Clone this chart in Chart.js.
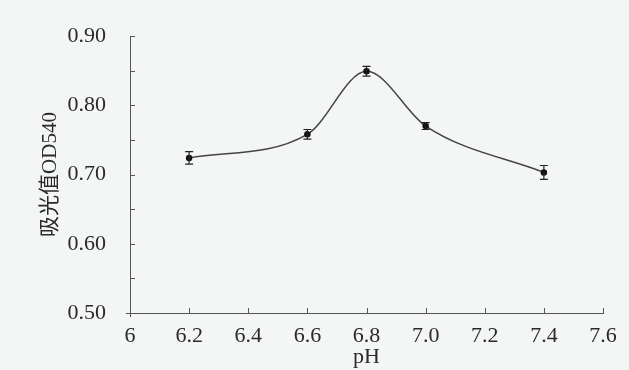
<!DOCTYPE html>
<html>
<head>
<meta charset="utf-8">
<script src="https://cdn.jsdelivr.net/npm/chart.js@4/dist/chart.umd.min.js"></script>
<style>
  html, body { margin: 0; padding: 0; background: #f4f6f5; }
  #wrap { width: 629px; height: 370px; position: relative; }
</style>
</head>
<body>
<div id="wrap"><canvas id="chart"></canvas></div>
<script>
const phValues = [6.2, 6.6, 6.8, 7.0, 7.4];
const odValues = [0.724, 0.758, 0.849, 0.770, 0.703];
const odErrors = [0.009, 0.007, 0.007, 0.005, 0.010];
const xTicks = [6, 6.2, 6.4, 6.6, 6.8, 7.0, 7.2, 7.4, 7.6];
const yTicks = [0.50, 0.55, 0.60, 0.65, 0.70, 0.75, 0.80, 0.85, 0.90];

const axisColor = '#555';
const serif = "'Liberation Serif', 'DejaVu Serif', serif";

// error bars + inward tick marks
const extras = {
    id: 'extras',
    afterDatasetsDraw(chart) {
        const ctx = chart.ctx;
        const xs = chart.scales.x, ys = chart.scales.y;
        ctx.save();
        ctx.strokeStyle = '#222';
        ctx.lineWidth = 1.2;
        phValues.forEach((x, i) => {
            const px = xs.getPixelForValue(x);
            const top = ys.getPixelForValue(odValues[i] + odErrors[i]);
            const bot = ys.getPixelForValue(odValues[i] - odErrors[i]);
            ctx.beginPath();
            ctx.moveTo(px, top); ctx.lineTo(px, bot);
            ctx.moveTo(px - 4, top); ctx.lineTo(px + 4, top);
            ctx.moveTo(px - 4, bot); ctx.lineTo(px + 4, bot);
            ctx.stroke();
        });
        ctx.strokeStyle = axisColor;
        ctx.lineWidth = 1;
        const x0 = xs.left, y0 = ys.bottom;
        yTicks.forEach(v => {
            const py = Math.round(ys.getPixelForValue(v)) + 0.5;
            ctx.beginPath();
            ctx.moveTo(x0 - (v === 0.5 ? 4 : 0), py); ctx.lineTo(x0 + 5, py);
            ctx.stroke();
        });
        xTicks.forEach(v => {
            const px = Math.round(xs.getPixelForValue(v)) + 0.5;
            ctx.beginPath();
            ctx.moveTo(px, y0 + (v === 6 ? 4 : 0)); ctx.lineTo(px, y0 - 5);
            ctx.stroke();
        });
        ctx.restore();
    }
};

new Chart(document.getElementById('chart').getContext('2d'), {
    type: 'line',
    data: {
        datasets: [{
            data: phValues.map((x, i) => ({ x: x, y: odValues[i] })),
            borderColor: '#444',
            borderWidth: 1.5,
            cubicInterpolationMode: 'monotone',
            pointRadius: 2.5,
            pointBackgroundColor: '#111',
            pointBorderColor: '#111',
            fill: false
        }]
    },
    options: {
        responsive: true,
        maintainAspectRatio: false,
        animation: false,
        layout: { padding: { top: 36, right: 26, left: 38, bottom: 0 } },
        plugins: { legend: { display: false }, tooltip: { enabled: false } },
        scales: {
            x: {
                type: 'linear',
                min: 6, max: 7.6,
                afterBuildTicks: s => { s.ticks = xTicks.map(v => ({ value: v })); },
                afterFit: s => { s.height = 57; },
                ticks: {
                    color: '#2a2a2a',
                    padding: 2,
                    maxRotation: 0,
                    font: { family: serif, size: 22 },
                    callback: v => v === 6 ? '6' : v.toFixed(1)
                },
                grid: { display: false },
                border: { display: true, color: axisColor, width: 1 },
                title: {
                    display: true, text: 'pH', color: '#2a2a2a', padding: 0,
                    font: { family: serif, size: 22 }
                }
            },
            y: {
                min: 0.5, max: 0.9,
                afterBuildTicks: s => { s.ticks = yTicks.map(v => ({ value: v })); },
                afterFit: s => { s.width = 92; },
                ticks: {
                    color: '#2a2a2a',
                    padding: 16,
                    font: { family: serif, size: 22 },
                    callback: v => (Math.round(v * 100) % 10 === 0) ? v.toFixed(2) : ''
                },
                grid: { display: false },
                border: { display: true, color: axisColor, width: 1 },
                title: {
                    display: true, text: '吸光值OD540', color: '#2a2a2a', padding: 0,
                    font: { family: "'Liberation Serif', 'Noto Sans CJK SC', serif", size: 21 }
                }
            }
        }
    },
    plugins: [extras]
});
</script>
</body>
</html>
